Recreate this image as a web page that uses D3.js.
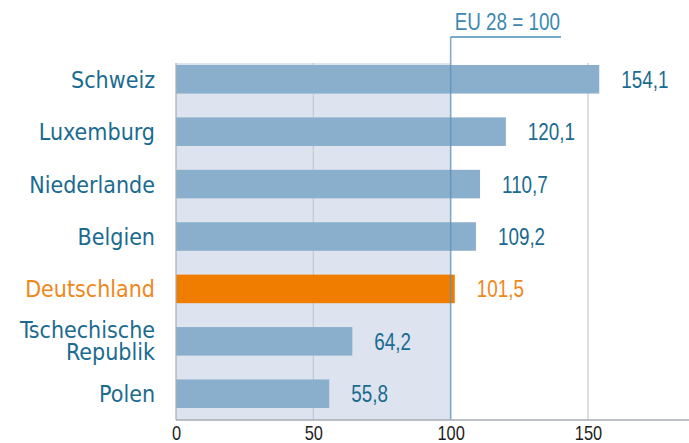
<!DOCTYPE html>
<html><head><meta charset="utf-8">
<script src="https://cdn.jsdelivr.net/npm/d3@7/dist/d3.min.js"></script>
<style>
body{margin:0;background:#fff;}
svg{display:block;}
</style></head>
<body><svg id="chart" width="689" height="443"></svg>
<script>
const categories = ["Schweiz","Luxemburg","Niederlande","Belgien","Deutschland","Tschechische Republik","Polen"];
const values = [154.1,120.1,110.7,109.2,101.5,64.2,55.8];
const valueLabels = ["154,1","120,1","110,7","109,2","101,5","64,2","55,8"];
const highlight = "Deutschland";
const tickValues = [0,50,100,150];
const refValue = 100;
const refLabel = "EU 28 = 100";

const svg = d3.select("#chart");
const x = d3.scaleLinear().domain([0,150]).range([176,588]);
const y = d3.scaleBand().domain(categories).range([65,408]).paddingInner(0.455).paddingOuter(0);
const plotTop = 63, plotBottom = 420;

const labelFont = "'DejaVu Sans Condensed','DejaVu Sans',sans-serif";
const numFont = "'Liberation Sans',Arial,sans-serif";
const narrow = 0.82;
const teal = "#1a6b8f";
const orange = "#f07d00";

// shaded reference region
svg.append("rect").attr("x",x(0)).attr("y",plotTop).attr("width",x(refValue)-x(0)).attr("height",plotBottom-plotTop)
  .attr("fill","#dde4ef");

// gridlines
svg.selectAll(".grid").data(tickValues.filter(d=>d!==0 && d!==refValue)).join("line")
  .attr("x1",d=>x(d)).attr("x2",d=>x(d)).attr("y1",plotTop).attr("y2",plotBottom)
  .attr("stroke","#c3c9d2").attr("stroke-width",1.2);

// bars
svg.selectAll(".bar").data(categories).join("rect")
  .attr("x",x(0)).attr("y",d=>y(d))
  .attr("width",(d,i)=>x(values[i])-x(0)).attr("height",y.bandwidth())
  .attr("fill",d=>d===highlight?orange:"#8aafcd");

// reference line
svg.append("line").attr("x1",x(refValue)).attr("x2",x(refValue)).attr("y1",37).attr("y2",plotBottom)
  .attr("stroke","#5b8fb8").attr("stroke-opacity",0.75).attr("stroke-width",1.6);
svg.append("line").attr("x1",x(refValue)).attr("x2",561).attr("y1",37).attr("y2",37)
  .attr("stroke","#4a8cb7").attr("stroke-width",1.3);
svg.append("g").attr("transform",`translate(560,30) scale(${narrow},1)`)
  .append("text").attr("text-anchor","end")
  .attr("font-family",numFont).attr("font-size",23).attr("fill","#3d87b3").text(refLabel);

// left axis line
svg.append("line").attr("x1",x(0)).attr("x2",x(0)).attr("y1",plotTop).attr("y2",plotBottom)
  .attr("stroke","#a7adb5").attr("stroke-width",1.2);

// bottom axis
const ax = svg.append("g").attr("transform",`translate(0,${plotBottom})`)
  .call(d3.axisBottom(x).tickValues(tickValues).tickSize(0).tickPadding(6).tickFormat(d3.format("d")));
ax.select(".domain").remove();
ax.append("line").attr("x1",x(0)).attr("x2",689).attr("y1",0).attr("y2",0).attr("stroke","#a7adb5").attr("stroke-width",1.4);
ax.selectAll("text").attr("font-family",numFont).attr("font-size",20).attr("fill","#1e1e1e")
  .attr("transform",`scale(${narrow},1)`);

// category labels
svg.selectAll(".cat").data(categories).join("text")
  .attr("text-anchor","end")
  .attr("font-family",labelFont).attr("font-size",23)
  .attr("fill",d=>d===highlight?"#f0871a":teal)
  .each(function(d){
    const t = d3.select(this);
    const cy = y(d)+y.bandwidth()/2;
    if(d==="Tschechische Republik"){
      t.append("tspan").attr("x",155).attr("y",cy-3).text("Tschechische");
      t.append("tspan").attr("x",155).attr("y",cy+19).text("Republik");
    } else {
      t.append("tspan").attr("x",155).attr("y",cy+8.5).text(d);
    }
  });

// value labels
svg.selectAll(".val").data(categories).join("g")
  .attr("transform",(d,i)=>`translate(${x(values[i])+22},${y(d)+y.bandwidth()/2+8.5}) scale(${narrow},1)`)
  .append("text")
  .attr("font-family",numFont).attr("font-size",23)
  .attr("fill",d=>d===highlight?"#f0871a":teal)
  .text(d=>valueLabels[categories.indexOf(d)]);
</script></body></html>
